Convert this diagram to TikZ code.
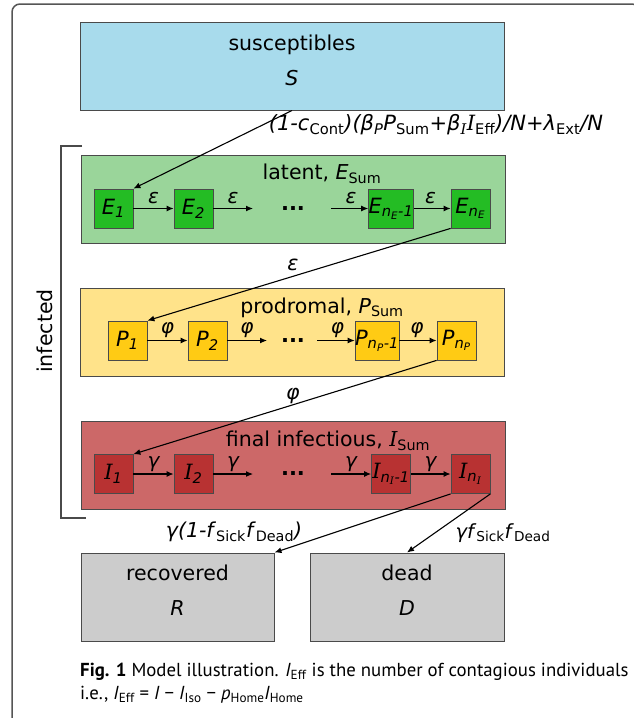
\documentclass[tikz,border=0pt]{standalone}
\usepackage{fontspec}
\setmainfont{DejaVu Sans}
\newfontfamily\capfont{PT Sans}
\newfontfamily\serifI{DejaVu Serif}
\usetikzlibrary{arrows.meta}

\definecolor{sblue}{HTML}{A8DBEC}
\definecolor{latbg}{HTML}{9AD59A}
\definecolor{egreen}{HTML}{24BC24}
\definecolor{probg}{HTML}{FFE38A}
\definecolor{pyellow}{HTML}{FFCB14}
\definecolor{infbg}{HTML}{CC6868}
\definecolor{ired}{HTML}{B83232}
\definecolor{rgray}{HTML}{CCCCCC}
\definecolor{bordc}{HTML}{4A4A4A}
\definecolor{framec}{HTML}{555555}

\newcommand\vI{{\serifI\itshape I}}
\newcommand\sbs[1]{\textsubscript{#1}}

\tikzset{
  bigbox/.style={draw=bordc, line width=1pt, minimum width=424pt, minimum height=88pt, inner sep=0pt},
  smallbox/.style={draw=bordc, line width=0.8pt, minimum width=39pt, minimum height=39pt, inner sep=0pt, font=\fontsize{21}{24}\selectfont},
  endbox/.style={draw=bordc, line width=1pt, minimum width=194pt, minimum height=88pt, inner sep=0pt, fill=rgray},
  title/.style={font=\fontsize{20.5}{24}\selectfont, inner sep=0pt},
  lbl/.style={font=\fontsize{20.5}{24}\selectfont\itshape, inner sep=0pt},
  rowlbl/.style={font=\fontsize{20}{24}\selectfont\itshape, inner sep=0pt},
  arr/.style={-{Latex[length=7pt,width=6pt]}, line width=1.1pt, black},
  dots/.style={font=\fontsize{21}{24}\selectfont\bfseries, inner sep=0pt},
}

\begin{document}
\begin{tikzpicture}[x=1pt,y=-1pt]
\useasboundingbox (0,0) rectangle (634,718);
\fill[white] (0,0) rectangle (634,718);

% outer frame
\draw[framec, line width=1.5pt, rounded corners=8pt] (12,740) -- (12,4) -- (640,4) -- (640,740);

% susceptibles
\node[bigbox, fill=sblue] (S) at (292,66) {};
\node[title] (Stitle) at (292,45) {susceptibles};
\node[title] (Svar) at (292,78) {\itshape S};

% latent
\node[bigbox, fill=latbg] (LAT) at (293,199) {};
\node[title] (Ltitle) at (322,174) {latent, \textit{E}\sbs{Sum}};
\node[smallbox, fill=egreen] (E1) at (113.5,208.5) {\textit{E}\sbs{\textit{1}}};
\node[smallbox, fill=egreen] (E2) at (193.5,208.5) {\textit{E}\sbs{\textit{2}}};
\node[smallbox, fill=egreen] (En1) at (391,208.5) {\textit{E}\sbs{\textit{n}\sbs{\textit{E}}\textit{-1}}};
\node[smallbox, fill=egreen] (EnE) at (470.5,208.5) {\textit{E}\sbs{\textit{n}\sbs{\textit{E}}}};
\node[dots] (Edots) at (293,208.5) {...};
\coordinate (Ea) at (253,208.5);
\coordinate (Eb) at (331,208.5);
\draw[arr] (E1.east) -- (E2.west);
\draw[arr] (E2.east) -- (Ea);
\draw[arr] (Eb) -- (En1.west);
\draw[arr] (En1.east) -- (EnE.west);
\node[rowlbl] at (153.5,198) {ε};
\node[rowlbl] at (233,198) {ε};
\node[rowlbl] at (351,198) {ε};
\node[rowlbl] at (430.5,198) {ε};

% prodromal
\node[bigbox, fill=probg] (PRO) at (292.5,332) {};
\node[title] (Ptitle) at (322,307.5) {prodromal, \textit{P}\sbs{Sum}};
\node[smallbox, fill=pyellow] (P1) at (127.5,340.5) {\textit{P}\sbs{\textit{1}}};
\node[smallbox, fill=pyellow] (P2) at (207.5,340.5) {\textit{P}\sbs{\textit{2}}};
\node[smallbox, fill=pyellow] (Pn1) at (377,340.5) {\textit{P}\sbs{\textit{n}\sbs{\textit{P}}\textit{-1}}};
\node[smallbox, fill=pyellow] (PnP) at (456.5,340.5) {\textit{P}\sbs{\textit{n}\sbs{\textit{P}}}};
\node[dots] (Pdots) at (293,340.5) {...};
\coordinate (Pa) at (267,340.5);
\coordinate (Pb) at (317,340.5);
\draw[arr] (P1.east) -- (P2.west);
\draw[arr] (P2.east) -- (Pa);
\draw[arr] (Pb) -- (Pn1.west);
\draw[arr] (Pn1.east) -- (PnP.west);
\node[rowlbl] at (167.5,330.5) {φ};
\node[rowlbl] at (247,330.5) {φ};
\node[rowlbl] at (337.5,330.5) {φ};
\node[rowlbl] at (417,330.5) {φ};

% final infectious
\node[bigbox, fill=infbg] (INF) at (293,465) {};
\node[title] (Ititle) at (328,441) {final infectious, \vI\sbs{Sum}};
\node[smallbox, fill=ired] (I1) at (113.5,474) {\vI\sbs{\textit{1}}};
\node[smallbox, fill=ired] (I2) at (193.5,474) {\vI\sbs{\textit{2}}};
\node[smallbox, fill=ired] (In1) at (391,474) {\vI\sbs{\textit{n}\sbs{\vI}\textit{-1}}};
\node[smallbox, fill=ired] (InI) at (470.5,474) {\vI\sbs{\textit{n}\sbs{\vI}}};
\node[dots] (Idots) at (293,474) {...};
\coordinate (Ia) at (253,474);
\coordinate (Ib) at (331,474);
\draw[arr] (I1.east) -- (I2.west);
\draw[arr] (I2.east) -- (Ia);
\draw[arr] (Ib) -- (In1.west);
\draw[arr] (In1.east) -- (InI.west);
\node[rowlbl] at (153.5,464) {γ};
\node[rowlbl] at (233,464) {γ};
\node[rowlbl] at (351,464) {γ};
\node[rowlbl] at (430.5,464) {γ};

% recovered / dead
\node[endbox, minimum width=193pt] (R) at (177.5,597) {};
\node[title] (Rtitle) at (177.5,573) {recovered};
\node[title] (Rvar) at (177.5,608) {\itshape R};
\node[endbox] (D) at (407,597) {};
\node[title] (Dtitle) at (407,573) {dead};
\node[title] (Dvar) at (407,608) {\itshape D};

% transitions between stages
\draw[arr] (S.south) -- (E1.north east);
\node[lbl, font=\fontsize{21}{24}\selectfont] (rate) at (436,125) {\textit{(1-c}\sbs{Cont}\textit{)(β}\sbs{\textit{P}}\textit{P}\sbs{Sum}+\textit{β}\sbs{\vI}\vI\sbs{Eff}\textit{)/N}+\textit{λ}\sbs{Ext}\textit{/N}};
\draw[arr] (EnE.south west) -- (P1.north east);
\node[lbl] at (293,265) {ε};
\draw[arr] (PnP.south west) -- (I1.north east);
\node[lbl] at (293,396) {φ};
\draw[arr] (InI.south west) -- (R.north east);
\draw[arr] (InI.south east) -- (D.north);
\node[lbl, font=\fontsize{20.5}{24}\selectfont] at (234,532) {\textit{γ(1-f}\sbs{Sick}\textit{f}\sbs{Dead}\textit{)}};
\node[lbl, font=\fontsize{19.5}{24}\selectfont] at (503,533) {\textit{γf}\sbs{Sick}\textit{f}\sbs{Dead}};

% infected bracket
\draw[bordc, line width=1.2pt] (82,146) -- (61,146) -- (61,518) -- (86,518);
\node[title, rotate=90] (infected) at (45,331) {infected};

% caption
\node[anchor=base west, inner sep=0pt, font=\capfont\fontsize{18.8}{22}\selectfont] (cap1) at (80,676)
  {\textbf{Fig. 1} Model illustration. \textit{I}\textsubscript{Eff} is the number of contagious individuals};
\node[anchor=base west, inner sep=0pt, font=\capfont\fontsize{18.8}{22}\selectfont] (cap2) at (80,699)
  {i.e., \textit{I}\textsubscript{Eff} = \textit{I} − \textit{I}\textsubscript{Iso} − \textit{p}\textsubscript{Home}\textit{I}\textsubscript{Home}};
\end{tikzpicture}
\end{document}
